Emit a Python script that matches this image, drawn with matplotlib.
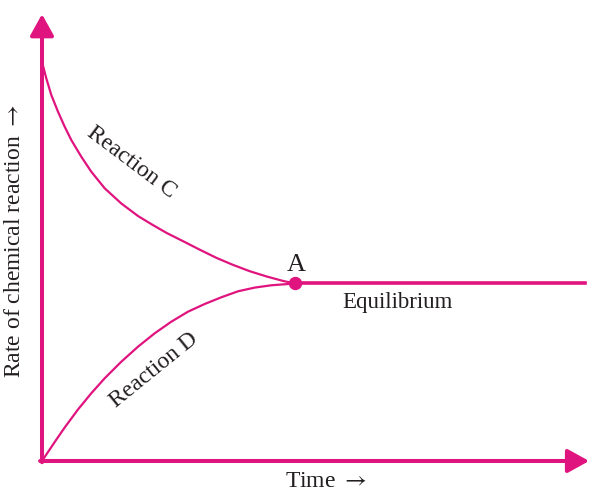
import matplotlib
matplotlib.use("Agg")
import matplotlib.pyplot as plt

plt.rcParams['font.family'] = ['Liberation Serif', 'DejaVu Serif']
plt.rcParams['mathtext.fontset'] = 'stix'

# ---- data (arbitrary units) ----
time_c = [0, 0.68, 1.47, 2.53, 3.59, 4.63, 6.21, 7.79, 9.91, 12.54, 15.18, 17.39,
          19.72, 22.34, 24.98, 27.62, 30.25, 32.89, 35.53, 38.15, 40]
rate_c = [100, 95.91, 91.73, 87.54, 83.78, 80.45, 76.27, 72.51, 68.35, 64.54, 61.40, 59.27,
          57.14, 55.06, 52.93, 50.88, 49.12, 47.54, 46.24, 45.11, 44.49]
time_d = [0, 2.01, 3.59, 5.69, 7.79, 9.91, 12.54, 15.18, 17.82, 20.44, 23.08, 25.72,
          28.35, 30.99, 33.63, 36.25, 40]
rate_d = [0, 4.76, 8.40, 12.91, 16.97, 20.73, 24.89, 28.65, 32.01, 34.91, 37.42, 39.35,
          41.03, 42.53, 43.46, 44.04, 44.49]
time_eq = [40, 85.8]
rate_eq = [44.49, 44.49]
point_a = (40, 44.49)

MAG = '#E0147E'
TXT = '#231F20'

fig = plt.figure(figsize=(5.9, 4.91), dpi=100)
ax = fig.add_axes([0, 0, 1, 1])
ax.set_xlim(-6.64, 86.64)
ax.set_ylim(-7.52, 115.54)
ax.axis('off')

# axes with arrows
arrow = dict(arrowstyle='-|>,head_length=13,head_width=7.2', mutation_scale=1,
             lw=2.9, color=MAG, shrinkA=0, shrinkB=0)
ax.annotate('', xy=(0, 112.0), xytext=(0, -0.3), arrowprops=arrow)
ax.annotate('', xy=(86.5, 0), xytext=(-0.3, 0), arrowprops=arrow)

# curves
ax.plot(time_c, rate_c, color=MAG, lw=1.6, solid_capstyle='round', solid_joinstyle='round')
ax.plot(time_d, rate_d, color=MAG, lw=1.6, solid_capstyle='round', solid_joinstyle='round')
ax.plot(time_eq, rate_eq, color=MAG, lw=2.6)
ax.plot([point_a[0]], [point_a[1]], 'o', color=MAG, ms=8.6, zorder=5)

# texts
ax.text(40.2, 47.6, 'A', fontsize=19, color=TXT, ha='center', va='baseline')
ax.text(56.2, 38.3, 'Equilibrium', fontsize=16.5, color=TXT, ha='center', va='baseline')
ax.text(14.2, 74.9, 'Reaction C', fontsize=17, color=TXT, ha='center', va='center',
        rotation=-37, rotation_mode='anchor')
ax.text(17.7, 22.8, 'Reaction D', fontsize=17, color=TXT, ha='center', va='center',
        rotation=39, rotation_mode='anchor')
ax.text(44.9, -6.4, 'Time $\\rightarrow$', fontsize=17, color=TXT, ha='center', va='baseline')
ax.text(-3.48, 55.0, 'Rate of chemical reaction $\\rightarrow$', fontsize=17, color=TXT,
        ha='center', va='baseline', rotation=90, rotation_mode='anchor')

fig.savefig('out.png', dpi=100)
